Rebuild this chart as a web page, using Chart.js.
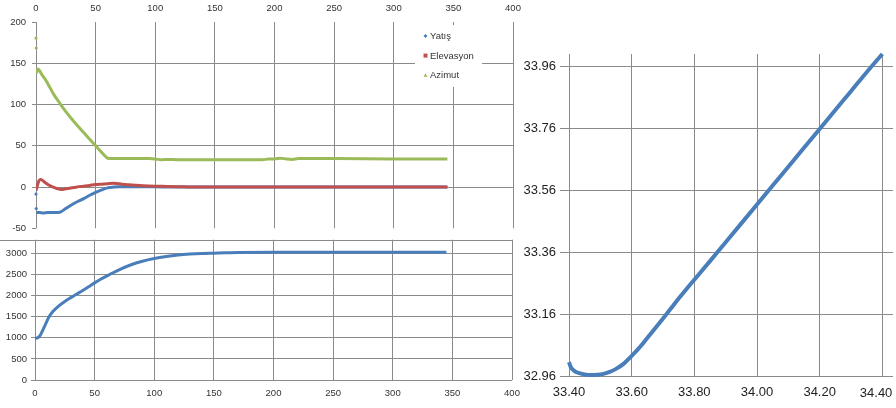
<!DOCTYPE html>
<html>
<head>
<meta charset="utf-8">
<script src="https://cdn.jsdelivr.net/npm/chart.js@4.4.0/dist/chart.umd.min.js"></script>
<style>
  html, body { margin: 0; padding: 0; background: #fff; width: 896px; height: 408px; overflow: hidden; position: relative; }
  canvas { position: absolute; }
  #angles { left: 0; top: 0; }
  #range { left: 0; top: 230px; }
  #track { left: 514px; top: 0; }
</style>
</head>
<body>
<canvas id="angles" width="530" height="240"></canvas>
<canvas id="range" width="529" height="178"></canvas>
<canvas id="track" width="400" height="408"></canvas>
<script>
// ust grafik: aci degerleri (zaman - derece)
const yatisT = [0.5, 3, 6, 10, 15, 20, 25, 30, 35, 40, 45, 50, 55, 60, 65, 70, 80, 90, 100, 120, 150, 200, 250, 300, 345];
const yatisV = [-31, -31, -31.5, -31, -31, -30.5, -26, -21.5, -17.5, -14, -10, -6.5, -3.5, -1, 0, 0.5, 0.5, 0.5, 0.3, 0, 0, 0, 0, 0, 0];
const yatisOutT = [0, 0.2];
const yatisOutV = [-8.5, -26];

const elevT = [0.2, 1, 2, 3, 4, 5, 6, 8, 10, 12, 15, 18, 21, 24, 28, 32, 36, 40, 45, 50, 55, 60, 65, 70, 75, 80, 90, 100, 110, 120, 130, 160, 200, 250, 300, 345];
const elevV = [-4, 1, 6, 8.5, 9, 8.5, 7.5, 5, 3, 1.5, -0.5, -2, -3, -2.5, -1.5, -0.5, 0.5, 1, 2, 3, 3.5, 4, 4.5, 4, 3, 2.5, 1.5, 1, 0.8, 0.5, 0, 0, 0, 0, 0, 0];

const azimT = [0.5, 1.5, 3, 5, 8, 10, 15, 20, 25, 30, 35, 40, 45, 50, 55, 58, 60, 65, 80, 95, 100, 105, 110, 120, 150, 190, 195, 200, 205, 210, 215, 220, 250, 300, 345];
const azimV = [138, 143, 141, 136, 130, 125, 112, 101.5, 91.5, 82.5, 74, 66, 58, 50, 42, 37.5, 35, 34.5, 34.5, 34.5, 34, 33, 33.5, 33, 33, 33, 34, 34, 35, 34, 33.5, 34.5, 34.5, 34, 34];
const azimOutT = [0, 0.2];
const azimOutV = [180.5, 168.5];

const seriesNames = ['Yatış', 'Elevasyon', 'Azimut'];

// alt grafik: mesafe
const rangeT = [0, 2, 4, 6, 8, 10, 12, 15, 20, 25, 30, 35, 40, 45, 50, 55, 60, 65, 70, 80, 90, 100, 110, 120, 130, 140, 150, 160, 170, 200, 250, 300, 345];
const rangeV = [985, 1000, 1045, 1150, 1270, 1400, 1510, 1625, 1760, 1865, 1955, 2040, 2125, 2215, 2305, 2390, 2465, 2540, 2610, 2730, 2820, 2885, 2932, 2966, 2988, 3002, 3010, 3018, 3028, 3030, 3030, 3030, 3030];
const rangeTicks = [0, 500, 1000, 1500, 2000, 2500, 3000];

// sag grafik: iz (enlem/boylam)
const trackX = [33.400, 33.405, 33.415, 33.430, 33.450, 33.470, 33.490, 33.510, 33.530, 33.550, 33.575, 33.600, 33.625, 33.650, 33.675, 33.700, 33.725, 33.750, 33.775, 33.800, 33.850, 33.900, 33.950, 34.000, 34.050, 34.100, 34.150, 34.200, 34.250, 34.300, 34.350, 34.400];
const trackY = [33.005, 32.990, 32.978, 32.970, 32.965, 32.963, 32.964, 32.967, 32.973, 32.983, 33.000, 33.025, 33.052, 33.083, 33.114, 33.146, 33.178, 33.210, 33.241, 33.271, 33.331, 33.392, 33.453, 33.514, 33.575, 33.636, 33.697, 33.758, 33.819, 33.880, 33.941, 34.000];
const trackXTicks = [33.40, 33.60, 33.80, 34.00, 34.20, 34.40];
const trackYTicks = [32.96, 33.16, 33.36, 33.56, 33.76, 33.96];

const BLUE = '#4a7ebb';
const RED = '#c0504d';
const GREEN = '#9bbb59';
const GRID = '#8a8a8a';
const FONT = 'Liberation Sans, Arial, sans-serif';

const pts = (xs, ys) => xs.map((x, i) => ({ x: x, y: ys[i] }));

Chart.defaults.animation = false;
Chart.defaults.font.family = FONT;

function lineSet(label, xs, ys, color, order) {
    return {
        label: label,
        data: pts(xs, ys),
        showLine: true,
        borderColor: color,
        backgroundColor: color,
        borderWidth: 3,
        pointRadius: 0,
        cubicInterpolationMode: 'monotone',
        order: order
    };
}

function dotSet(xs, ys, color, order) {
    return {
        label: '',
        data: pts(xs, ys),
        showLine: false,
        pointRadius: 1.6,
        pointBorderWidth: 0,
        backgroundColor: color,
        clip: false,
        order: order
    };
}

// Excel tarzi lejant kutusu
const legendBox = {
    id: 'legendBox',
    afterDraw(chart) {
        const a = chart.chartArea;
        const ctx = chart.ctx;
        const left = a.right - 98, top = a.top + 3;
        ctx.save();
        ctx.fillStyle = '#fff';
        ctx.fillRect(left, top, 67, 62);
        const colors = [BLUE, RED, GREEN];
        ctx.font = '9.5px ' + FONT;
        ctx.textBaseline = 'middle';
        seriesNames.forEach((name, i) => {
            const y = top + 11 + i * 19.6;
            const mx = left + 10.5;
            ctx.fillStyle = colors[i];
            ctx.beginPath();
            if (i === 0) {
                ctx.moveTo(mx, y - 2); ctx.lineTo(mx + 2, y); ctx.lineTo(mx, y + 2); ctx.lineTo(mx - 2, y);
            } else if (i === 1) {
                ctx.rect(mx - 2, y - 2, 4, 4);
            } else {
                ctx.moveTo(mx, y - 2); ctx.lineTo(mx + 2, y + 1.5); ctx.lineTo(mx - 2, y + 1.5);
            }
            ctx.closePath();
            ctx.fill();
            ctx.fillStyle = '#333';
            ctx.fillText(name, left + 15, y + 0.5);
        });
        ctx.restore();
    }
};

// alt grafigin ust cercevesi
const topFrame = {
    id: 'topFrame',
    afterDraw(chart) {
        const a = chart.chartArea;
        const ctx = chart.ctx;
        ctx.save();
        ctx.strokeStyle = GRID;
        ctx.lineWidth = 1;
        ctx.beginPath();
        ctx.moveTo(0, Math.round(a.top) + 0.5);
        ctx.lineTo(a.right, Math.round(a.top) + 0.5);
        ctx.stroke();
        ctx.restore();
    }
};

// son x etiketi (34.40) pencereye sigsin diye sola kaydirilir
const lastLabel = {
    id: 'lastLabel',
    afterDraw(chart) {
        const sx = chart.scales.x;
        const v = trackXTicks[trackXTicks.length - 1];
        const ctx = chart.ctx;
        ctx.save();
        ctx.font = '13px ' + FONT;
        ctx.fillStyle = '#1e1e1e';
        ctx.textAlign = 'right';
        ctx.textBaseline = 'middle';
        ctx.fillText(v.toFixed(2), sx.getPixelForValue(v) + 10, chart.chartArea.bottom + 17);
        ctx.restore();
    }
};

const smallTicks = { font: { size: 9.5 }, color: '#333' };

new Chart(document.getElementById('angles'), {
    type: 'scatter',
    data: {
        datasets: [
            lineSet(seriesNames[0], yatisT, yatisV, BLUE, 3),
            lineSet(seriesNames[1], elevT, elevV, RED, 2),
            lineSet(seriesNames[2], azimT, azimV, GREEN, 1),
            dotSet(yatisOutT, yatisOutV, BLUE, 3),
            dotSet(azimOutT, azimOutV, GREEN, 1)
        ]
    },
    options: {
        responsive: false,
        layout: { padding: { left: 0, top: 0, right: 17, bottom: 8.5 } },
        plugins: { legend: { display: false }, tooltip: { enabled: false } },
        scales: {
            x: {
                type: 'linear',
                position: 'top',
                min: 0,
                max: 400,
                afterFit: s => { s.height = 22; },
                ticks: Object.assign({ stepSize: 50, padding: 8, maxRotation: 0 }, smallTicks),
                grid: { color: GRID, drawTicks: false },
                border: { display: false }
            },
            y: {
                min: -50,
                max: 200,
                afterFit: s => { s.width = 36; },
                ticks: Object.assign({ stepSize: 50, padding: 6 }, smallTicks),
                grid: {
                    color: c => (c.tick && (c.tick.value === 200 || c.tick.value === -50)) ? 'rgba(0,0,0,0)' : GRID,
                    tickColor: GRID,
                    tickLength: 4
                },
                border: { display: false }
            }
        }
    },
    plugins: [legendBox]
});

new Chart(document.getElementById('range'), {
    type: 'scatter',
    data: {
        datasets: [lineSet(seriesNames[0], rangeT, rangeV, BLUE, 1)]
    },
    options: {
        responsive: false,
        layout: { padding: { left: 0, top: 9.3, right: 17, bottom: 0 } },
        plugins: { legend: { display: false }, tooltip: { enabled: false } },
        scales: {
            x: {
                type: 'linear',
                min: 0,
                max: 400,
                afterFit: s => { s.height = 28; },
                ticks: Object.assign({ stepSize: 50, padding: 8, maxRotation: 0 }, smallTicks),
                grid: { color: GRID, drawTicks: false },
                border: { display: false }
            },
            y: {
                min: 0,
                max: 3330,
                afterFit: s => { s.width = 35; },
                afterBuildTicks: s => { s.ticks = rangeTicks.map(v => ({ value: v })); },
                ticks: Object.assign({ padding: 4, callback: v => String(v) }, smallTicks),
                grid: { color: GRID, tickColor: GRID, tickLength: 4 },
                border: { display: false }
            }
        }
    },
    plugins: [topFrame]
});

new Chart(document.getElementById('track'), {
    type: 'scatter',
    data: {
        datasets: [{
            data: pts(trackX, trackY),
            showLine: true,
            borderColor: BLUE,
            borderWidth: 4,
            pointRadius: 0,
            cubicInterpolationMode: 'monotone',
            clip: false
        }]
    },
    options: {
        responsive: false,
        layout: { padding: { left: 0, top: 54, right: 21, bottom: 0 } },
        plugins: { legend: { display: false }, tooltip: { enabled: false } },
        scales: {
            x: {
                type: 'linear',
                min: 33.40,
                max: 34.434,
                afterFit: s => { s.height = 32; },
                afterBuildTicks: s => { s.ticks = trackXTicks.map(v => ({ value: v })); },
                ticks: {
                    padding: 9,
                    maxRotation: 0,
                    font: { size: 13 },
                    color: c => c.index === trackXTicks.length - 1 ? 'rgba(0,0,0,0)' : '#1e1e1e',
                    callback: v => v.toFixed(2)
                },
                grid: { color: GRID, drawTicks: false },
                border: { display: false }
            },
            y: {
                min: 32.96,
                max: 34.0,
                afterFit: s => { s.width = 55; },
                afterBuildTicks: s => { s.ticks = trackYTicks.map(v => ({ value: v })); },
                ticks: { padding: 4, font: { size: 13 }, color: '#1e1e1e', callback: v => v.toFixed(2) },
                grid: { color: GRID, tickColor: GRID, tickLength: 9 },
                border: { display: false }
            }
        }
    },
    plugins: [lastLabel]
});
</script>
</body>
</html>
